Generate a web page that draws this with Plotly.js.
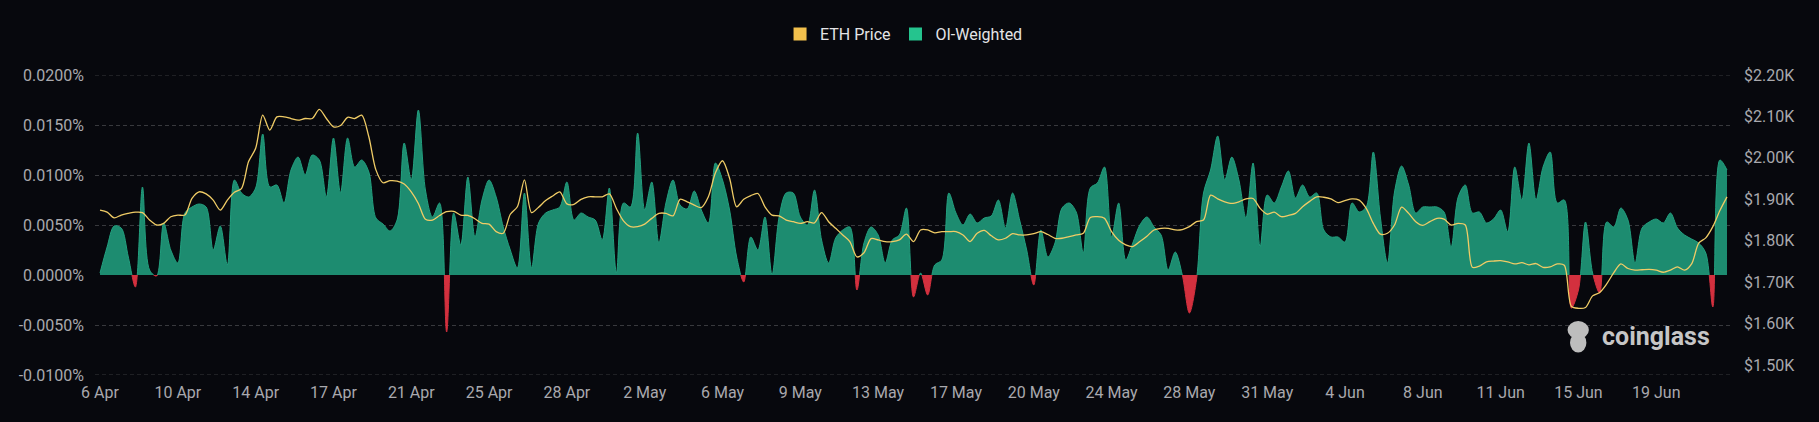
<!DOCTYPE html>
<html>
<head>
<meta charset="utf-8">
<script src="https://cdn.plot.ly/plotly-3.0.1.min.js"></script>
<style>
  html, body { margin: 0; padding: 0; background: #07080d; }
  #myDiv { width: 1819px; height: 422px; }
</style>
</head>
<body>
<div id="myDiv"></div>
<script>
// x tick labels, one every 11 funding periods (8h each)
var dateLabels = ['6 Apr', '10 Apr', '14 Apr', '17 Apr', '21 Apr', '25 Apr', '28 Apr',
  '2 May', '6 May', '9 May', '13 May', '17 May', '20 May', '24 May', '28 May',
  '31 May', '4 Jun', '8 Jun', '11 Jun', '15 Jun', '19 Jun'];

// OI-weighted funding rate, in %
var fundingRate = [
  0.0002, 0.0028, 0.0049, 0.0047, 0.0018, -0.0012, 0.0088, 0.0005, -0.0001, 0.0052,
  0.0025, 0.0012, 0.0062, 0.0068, 0.0071, 0.0068, 0.0025, 0.0049, 0.0010, 0.0095,
  0.0082, 0.0078, 0.0087, 0.0141, 0.0088, 0.0090, 0.0072, 0.0105, 0.0118, 0.0100,
  0.0120, 0.0115, 0.0078, 0.0137, 0.0082, 0.0137, 0.0108, 0.0115, 0.0103, 0.0057,
  0.0051, 0.0044, 0.0055, 0.0132, 0.0095, 0.0165, 0.0085, 0.0058, 0.0072, -0.0057,
  0.0062, 0.0030, 0.0098, 0.0038, 0.0075, 0.0095, 0.0078, 0.0048, 0.0025, 0.0007,
  0.0082, 0.0007, 0.0052, 0.0062, 0.0065, 0.0068, 0.0093, 0.0055, 0.0062, 0.0058,
  0.0055, 0.0035, 0.0087, 0.0002, 0.0072, 0.0068, 0.0142, 0.0065, 0.0093, 0.0032,
  0.0072, 0.0095, 0.0070, 0.0066, 0.0084, 0.0065, 0.0052, 0.0112, 0.0095, 0.0065,
  0.0018, -0.0007, 0.0038, 0.0025, 0.0058, 0.0000, 0.0058, 0.0082, 0.0082, 0.0058,
  0.0050, 0.0085, 0.0035, 0.0012, 0.0037, 0.0045, 0.0048, -0.0015, 0.0032, 0.0048,
  0.0040, 0.0012, 0.0035, 0.0040, 0.0067, -0.0022, 0.0002, -0.0020, 0.0010, 0.0015,
  0.0082, 0.0062, 0.0050, 0.0061, 0.0052, 0.0057, 0.0059, 0.0075, 0.0047, 0.0082,
  0.0055, 0.0025, -0.0010, 0.0045, 0.0018, 0.0032, 0.0067, 0.0072, 0.0063, 0.0022,
  0.0087, 0.0092, 0.0108, 0.0038, 0.0072, 0.0015, 0.0032, 0.0050, 0.0058, 0.0048,
  0.0040, 0.0005, 0.0023, 0.0000, -0.0038, -0.0005, 0.0082, 0.0105, 0.0139, 0.0095,
  0.0118, 0.0095, 0.0057, 0.0112, 0.0028, 0.0080, 0.0072, 0.0088, 0.0104, 0.0077,
  0.0090, 0.0078, 0.0082, 0.0045, 0.0038, 0.0038, 0.0033, 0.0072, 0.0063, 0.0068,
  0.0123, 0.0058, 0.0012, 0.0083, 0.0109, 0.0090, 0.0062, 0.0068, 0.0068, 0.0068,
  0.0063, 0.0028, 0.0078, 0.0090, 0.0062, 0.0063, 0.0052, 0.0056, 0.0065, 0.0043,
  0.0108, 0.0075, 0.0132, 0.0075, 0.0108, 0.0123, 0.0072, 0.0075, -0.0033, -0.0015,
  0.0053, 0.0002, -0.0018, 0.0053, 0.0048, 0.0067, 0.0055, 0.0012, 0.0047, 0.0053,
  0.0056, 0.0052, 0.0062, 0.0047, 0.0040, 0.0036, 0.0032, 0.0022, -0.0032, 0.0115,
  0.0105
];

// ETH price, USD
var ethPrice = [
  1874, 1869, 1855, 1862, 1866, 1869, 1868, 1850, 1838, 1842,
  1858, 1862, 1862, 1902, 1918, 1913, 1898, 1874, 1898, 1917,
  1926, 1991, 2023, 2103, 2067, 2099, 2099, 2095, 2091, 2095,
  2095, 2117, 2095, 2075, 2078, 2098, 2095, 2103, 2051, 1971,
  1940, 1945, 1944, 1937, 1918, 1890, 1852, 1850, 1861, 1870,
  1871, 1862, 1861, 1853, 1842, 1840, 1822, 1818, 1864, 1882,
  1947, 1868, 1881, 1897, 1908, 1918, 1889, 1888, 1900, 1906,
  1906, 1906, 1913, 1878, 1848, 1834, 1834, 1840, 1854, 1866,
  1866, 1860, 1900, 1894, 1886, 1880, 1906, 1964, 1993, 1951,
  1882, 1900, 1909, 1914, 1882, 1862, 1860, 1850, 1846, 1842,
  1846, 1843, 1868, 1846, 1830, 1814, 1798, 1761, 1771, 1805,
  1802, 1798, 1798, 1802, 1816, 1798, 1826, 1826, 1819, 1822,
  1822, 1822, 1814, 1798, 1818, 1825, 1812, 1802, 1806, 1817,
  1814, 1814, 1817, 1822, 1815, 1806, 1806, 1810, 1814, 1818,
  1856, 1858, 1854, 1822, 1801, 1790, 1786, 1798, 1811, 1826,
  1830, 1830, 1826, 1827, 1834, 1846, 1850, 1910, 1901, 1894,
  1890, 1894, 1901, 1902, 1878, 1864, 1869, 1858, 1861, 1866,
  1882, 1895, 1906, 1905, 1901, 1892, 1897, 1901, 1898, 1878,
  1842, 1816, 1818, 1838, 1881, 1866, 1846, 1837, 1846, 1854,
  1852, 1838, 1842, 1838, 1736, 1739, 1749, 1751, 1752, 1749,
  1744, 1747, 1742, 1745, 1736, 1737, 1744, 1741, 1642, 1637,
  1639, 1667, 1675, 1696, 1723, 1744, 1733, 1729, 1730, 1731,
  1729, 1724, 1729, 1737, 1729, 1744, 1794, 1807, 1834, 1873,
  1906
];

var rateTickVals = [0, 0.005, 0.01, 0.015, 0.02];
var rateTickText = ['0.0000%', '0.0050%', '0.0100%', '0.0150%', '0.0200%'];
var negTickVals = [-0.01, -0.005];
var negTickText = ['-0.0100%', '-0.0050%'];
var priceTickVals = [1500, 1600, 1700, 1800, 1900, 2000, 2100, 2200];
var priceTickText = ['$1.50K', '$1.60K', '$1.70K', '$1.80K', '$1.90K', '$2.00K', '$2.10K', '$2.20K'];

var idx = fundingRate.map(function (v, i) { return i; });
var labelIdx = dateLabels.map(function (d, k) { return k * 11; });

var GREEN = '#1d8c70';
var RED = '#d3303e';
var GOLD = '#f0cc66';
var GRID = 'rgba(255,255,255,0.2)';

// same curve drawn twice: the upper subplot keeps the positive part, the lower one the negative part
var positive = {
  x: idx, y: fundingRate, xaxis: 'x', yaxis: 'y',
  type: 'scatter', mode: 'lines', fill: 'tozeroy',
  fillcolor: GREEN,
  line: {color: '#22a07f', width: 1, shape: 'spline', smoothing: 0.9, simplify: false},
  showlegend: false, hoverinfo: 'skip'
};
var negative = {
  x: idx, y: fundingRate, xaxis: 'x', yaxis: 'y2',
  type: 'scatter', mode: 'lines', fill: 'tozeroy',
  fillcolor: RED,
  line: {color: RED, width: 1, shape: 'spline', smoothing: 0.9, simplify: false},
  showlegend: false, hoverinfo: 'skip'
};
var price = {
  x: idx, y: ethPrice, xaxis: 'x', yaxis: 'y3',
  type: 'scatter', mode: 'lines',
  line: {color: GOLD, width: 1.3, shape: 'spline', smoothing: 0.8, simplify: false},
  showlegend: false, name: 'ETH Price'
};
// legend entries
var legPrice = {
  x: [null], y: [null], xaxis: 'x', yaxis: 'y', type: 'scatter', mode: 'markers',
  marker: {symbol: 'square', size: 13, color: '#f2c04c'}, name: 'ETH Price'
};
var legRate = {
  x: [null], y: [null], xaxis: 'x', yaxis: 'y', type: 'scatter', mode: 'markers',
  marker: {symbol: 'square', size: 13, color: '#25c48e'}, name: 'OI-Weighted'
};

var tickFont = {family: 'Roboto, sans-serif', size: 16, color: '#a9a9ae'};
var gridStyle = {
  showgrid: true, gridcolor: GRID, griddash: '4px,3px', gridwidth: 1,
  zeroline: false, showline: false, ticks: '', tickfont: tickFont, fixedrange: true
};

var layout = {
  width: 1819, height: 422,
  margin: {l: 95, r: 86, t: 75, b: 47},
  paper_bgcolor: '#07080d',
  plot_bgcolor: 'rgba(0,0,0,0)',
  font: {family: 'Roboto, sans-serif', color: '#a9a9ae'},
  showlegend: true,
  legend: {
    orientation: 'h', xref: 'container', yref: 'container',
    x: 0.497, xanchor: 'center', y: 0.919, yanchor: 'middle',
    font: {family: 'Roboto, sans-serif', size: 16, color: '#e4e4e6'},
    bgcolor: 'rgba(0,0,0,0)', itemclick: false, itemdoubleclick: false
  },
  xaxis: {
    anchor: 'y2', range: [-0.71, 230.85],
    tickmode: 'array', tickvals: labelIdx, ticktext: dateLabels,
    showgrid: false, zeroline: false, showline: false, ticks: '',
    tickfont: tickFont, ticklabelstandoff: 6, fixedrange: true
  },
  yaxis: Object.assign({}, gridStyle, {
    domain: [1 / 3, 1], range: [0, 0.02], anchor: 'x',
    tickmode: 'array', tickvals: rateTickVals, ticktext: rateTickText,
    ticklabelstandoff: 10
  }),
  yaxis2: Object.assign({}, gridStyle, {
    domain: [0, 1 / 3], range: [-0.01, 0], anchor: 'x',
    tickmode: 'array', tickvals: negTickVals, ticktext: negTickText,
    ticklabelstandoff: 10
  }),
  yaxis3: {
    domain: [0, 1], range: [1476, 2200], anchor: 'x', side: 'right',
    tickmode: 'array', tickvals: priceTickVals, ticktext: priceTickText,
    showgrid: false, zeroline: false, showline: false, ticks: '',
    tickfont: tickFont, ticklabelstandoff: 10, fixedrange: true
  },
  shapes: [
    // edge gridlines, which the axes leave out at the very border
    {type: 'line', layer: 'below', xref: 'x domain', yref: 'y', x0: 0, x1: 1,
      y0: rateTickVals[4], y1: rateTickVals[4], line: {color: GRID, width: 1, dash: '4px,3px'}},
    {type: 'line', layer: 'below', xref: 'x domain', yref: 'y2', x0: 0, x1: 1,
      y0: negTickVals[0], y1: negTickVals[0], line: {color: GRID, width: 1, dash: '4px,3px'}},
    {type: 'circle', xref: 'paper', yref: 'paper', x0: 0.899, x1: 0.912, y0: 0.12, y1: 0.18,
      fillcolor: '#bdbdbd', line: {width: 0}},
    {type: 'circle', xref: 'paper', yref: 'paper', x0: 0.9005, x1: 0.9105, y0: 0.075, y1: 0.14,
      fillcolor: '#bdbdbd', line: {width: 0}}
  ],
  annotations: [
    {text: 'coinglass', xref: 'paper', yref: 'paper', x: 0.953, y: 0.127,
      xanchor: 'center', yanchor: 'middle', showarrow: false,
      font: {family: 'Roboto, sans-serif', size: 25, weight: 'bold', color: '#c6c6c6'}}
  ]
};

Plotly.newPlot('myDiv', [positive, negative, price, legPrice, legRate], layout,
  {displayModeBar: false, staticPlot: true});
</script>
</body>
</html>
